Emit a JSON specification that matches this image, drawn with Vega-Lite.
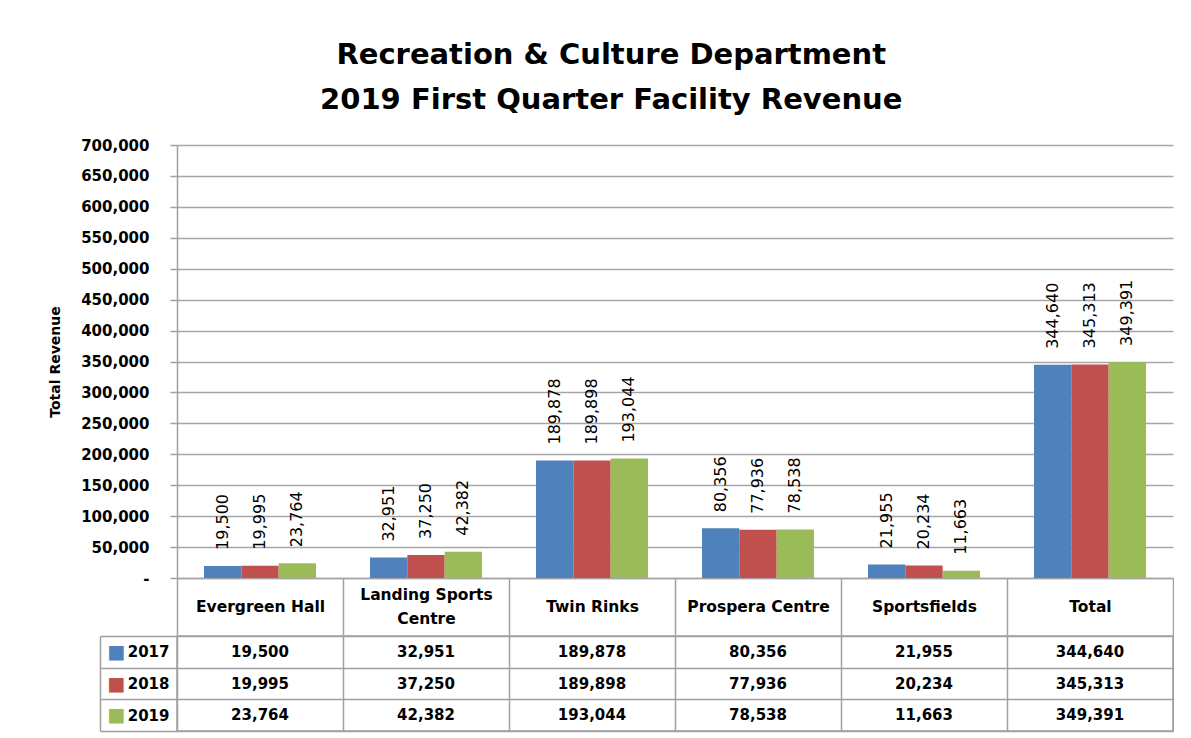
{
  "$schema": "https://vega.github.io/schema/vega-lite/v6.json",
  "background": "white",
  "autosize": {"type": "pad"},
  "padding": {"left": 48, "top": 41, "right": 0, "bottom": 0},
  "title": {
    "text": ["Recreation & Culture Department", "2019 First Quarter Facility Revenue"],
    "font": "DejaVu Sans",
    "fontSize": 29,
    "fontWeight": "bold",
    "color": "#000000",
    "lineHeight": 45,
    "anchor": "middle",
    "offset": 23
  },
  "data": {
    "values": [
      {"category": "Evergreen Hall", "year": "2017", "value": 19500},
      {"category": "Evergreen Hall", "year": "2018", "value": 19995},
      {"category": "Evergreen Hall", "year": "2019", "value": 23764},
      {"category": "Landing Sports Centre", "year": "2017", "value": 32951},
      {"category": "Landing Sports Centre", "year": "2018", "value": 37250},
      {"category": "Landing Sports Centre", "year": "2019", "value": 42382},
      {"category": "Twin Rinks", "year": "2017", "value": 189878},
      {"category": "Twin Rinks", "year": "2018", "value": 189898},
      {"category": "Twin Rinks", "year": "2019", "value": 193044},
      {"category": "Prospera Centre", "year": "2017", "value": 80356},
      {"category": "Prospera Centre", "year": "2018", "value": 77936},
      {"category": "Prospera Centre", "year": "2019", "value": 78538},
      {"category": "Sportsfields", "year": "2017", "value": 21955},
      {"category": "Sportsfields", "year": "2018", "value": 20234},
      {"category": "Sportsfields", "year": "2019", "value": 11663},
      {"category": "Total", "year": "2017", "value": 344640},
      {"category": "Total", "year": "2018", "value": 345313},
      {"category": "Total", "year": "2019", "value": 349391}
    ]
  },
  "spacing": -8,
  "resolve": {"scale": {"x": "independent", "y": "independent"}},
  "vconcat": [
    {
      "width": 996,
      "height": 433,
      "view": {"stroke": null},
      "encoding": {
        "x": {
          "field": "category",
          "type": "nominal",
          "sort": null,
          "title": null,
          "scale": {"paddingInner": 0, "paddingOuter": 0},
          "axis": {
            "orient": "bottom",
            "domain": true,
            "domainColor": "#a6a6a6",
            "domainWidth": 1.5,
            "ticks": true,
            "tickBand": "extent",
            "tickSize": 57,
            "tickColor": "#a0a0a0",
            "tickWidth": 1.5,
            "grid": false,
            "labelAngle": 0,
            "labelFont": "DejaVu Sans",
            "labelFontSize": 15.5,
            "labelFontWeight": "bold",
            "labelColor": "#000000",
            "labelBaseline": "middle",
            "labelPadding": {
              "condition": {"test": "datum.label == 'Landing Sports Centre'", "value": -40.5},
              "value": -28.5
            },
            "labelLineHeight": 24,
            "labelOverlap": false,
            "labelLimit": 200,
            "labelExpr": "datum.label == 'Landing Sports Centre' ? ['Landing Sports', 'Centre'] : datum.label"
          }
        },
        "xOffset": {
          "field": "year",
          "type": "nominal",
          "scale": {"paddingInner": 0, "paddingOuter": 0.723}
        },
        "y": {
          "field": "value",
          "type": "quantitative",
          "title": "Total Revenue",
          "scale": {"domain": [0, 700000]},
          "axis": {
            "values": [0, 50000, 100000, 150000, 200000, 250000, 300000, 350000, 400000, 450000, 500000, 550000, 600000, 650000, 700000],
            "labelExpr": "datum.value == 0 ? '-' : format(datum.value, ',')",
            "labelFont": "DejaVu Sans",
            "labelFontSize": 15,
            "labelFontWeight": "bold",
            "labelColor": "#000000",
            "labelPadding": 21,
            "tickSize": 7,
            "tickColor": "#a0a0a0",
            "tickWidth": 1.5,
            "domainColor": "#a0a0a0",
            "domainWidth": 1.5,
            "grid": true,
            "gridColor": "#a6a6a6",
            "gridWidth": 1.5,
            "titleFont": "DejaVu Sans",
            "titleFontSize": 14,
            "titleFontWeight": "bold",
            "titleColor": "#000000",
            "titlePadding": 18
          }
        }
      },
      "layer": [
        {
          "mark": {"type": "bar"},
          "encoding": {
            "color": {
              "field": "year",
              "type": "nominal",
              "scale": {"domain": ["2017", "2018", "2019"], "range": ["#4f81bd", "#c0504d", "#9bbb59"]},
              "legend": null
            }
          }
        },
        {
          "mark": {
            "type": "text",
            "angle": 270,
            "align": "left",
            "baseline": "middle",
            "dx": 16,
            "font": "DejaVu Sans",
            "fontSize": 16,
            "color": "#000000"
          },
          "encoding": {
            "text": {"field": "value", "type": "quantitative", "format": ","}
          }
        }
      ]
    },
    {
      "width": 996,
      "height": 95,
      "view": {"stroke": "#a0a0a0", "strokeWidth": 1.5},
      "resolve": {"axis": {"y": "independent"}},
      "layer": [
        {
          "mark": {
            "type": "text",
            "font": "DejaVu Sans",
            "fontSize": 15,
            "fontWeight": "bold",
            "color": "#000000"
          },
          "encoding": {
            "x": {
              "field": "category",
              "type": "nominal",
              "sort": null,
              "title": null,
              "scale": {"paddingInner": 0, "paddingOuter": 0},
              "axis": {
                "orient": "bottom",
                "grid": true,
                "gridColor": "#a0a0a0",
                "gridWidth": 1.5,
                "tickBand": "extent",
                "labels": false,
                "ticks": false,
                "domain": false
              }
            },
            "y": {
              "field": "year",
              "type": "nominal",
              "title": null,
              "scale": {"paddingInner": 0, "paddingOuter": 0},
              "axis": {
                "orient": "left",
                "grid": true,
                "gridColor": "#a0a0a0",
                "gridWidth": 1.5,
                "tickBand": "extent",
                "ticks": true,
                "tickSize": 77,
                "tickColor": "#a0a0a0",
                "tickWidth": 1.5,
                "domain": false,
                "labelPadding": -69,
                "labelFont": "DejaVu Sans",
                "labelFontSize": 15,
                "labelFontWeight": "bold",
                "labelColor": "#000000"
              }
            },
            "text": {"field": "value", "type": "quantitative", "format": ","}
          }
        },
        {
          "mark": {"type": "text", "text": ""},
          "encoding": {
            "y": {
              "field": "year",
              "type": "nominal",
              "title": null,
              "axis": {
                "orient": "left",
                "offset": 77,
                "domain": true,
                "domainColor": "#a0a0a0",
                "domainWidth": 1.5,
                "ticks": false,
                "grid": false,
                "labelExpr": "'■'",
                "labelFont": "DejaVu Sans",
                "labelFontSize": 19,
                "labelPadding": -25,
                "labelColor": {
                  "condition": [
                    {"test": "datum.value == '2017'", "value": "#4f81bd"},
                    {"test": "datum.value == '2018'", "value": "#c0504d"}
                  ],
                  "value": "#9bbb59"
                }
              }
            }
          }
        }
      ]
    }
  ]
}
